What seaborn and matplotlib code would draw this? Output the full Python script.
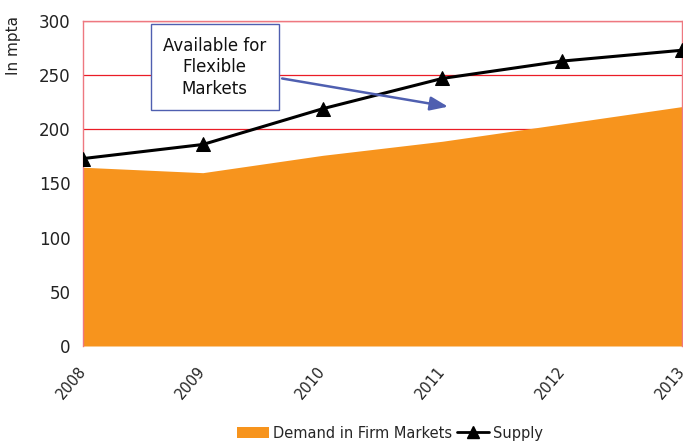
import matplotlib
matplotlib.use("Agg")
import matplotlib.pyplot as plt
import seaborn as sns
import pandas as pd
from matplotlib.patches import Patch
from matplotlib.lines import Line2D

years = [2008, 2009, 2010, 2011, 2012, 2013]
demand = [165, 160, 176, 189, 205, 221]
supply = [173, 186, 219, 247, 263, 273]
yticks = [0, 50, 100, 150, 200, 250, 300]

sns.set_theme(style="white")
plt.rcParams['font.family'] = ['DejaVu Sans']

df = pd.DataFrame({"year": years, "demand": demand, "supply": supply})

fig = plt.figure(figsize=(6.83, 4.44), dpi=100)
ax = fig.add_axes([83/683, 98/444, 599/683, 325/444])

for y in yticks[1:]:
    ax.axhline(y, color='#EA1C26', lw=0.9, zorder=0)

ax.fill_between(df["year"], 0, df["demand"], color='#F7941D', lw=0, zorder=1)
sns.lineplot(data=df, x="year", y="supply", ax=ax, color='black', lw=2.2,
             marker='^', markersize=9.5, markeredgecolor='black', zorder=3)

ax.set_xlim(2008, 2013)
ax.set_ylim(0, 300)
ax.set_yticks(yticks)
ax.set_xticks(years)
ax.set_xticklabels([str(y) for y in years], rotation=50, ha='right', va='center',
                   rotation_mode='anchor', fontsize=10.5, color='#222222')
ax.set_yticklabels([str(v) for v in yticks], fontsize=12, color='#222222')
ax.tick_params(axis='both', length=0)
ax.tick_params(axis='x', pad=16)
ax.tick_params(axis='y', pad=9)
ax.set_xlabel("")
ax.set_ylabel("In mpta", fontsize=11, color='#222222')
ax.yaxis.set_label_coords(-0.103, 0.925)

for side in ['left', 'right', 'top']:
    ax.spines[side].set_color('#EE7880')
    ax.spines[side].set_linewidth(1.0)
ax.spines['bottom'].set_visible(False)

ax.annotate("Available for\nFlexible\nMarkets", xy=(2011.07, 220.5), xytext=(2009.1, 257.5),
            ha='center', va='center', fontsize=12, color='#111111', linespacing=1.25,
            bbox=dict(boxstyle='square,pad=0.75', fc='white', ec='#4F5FB0', lw=1.0),
            arrowprops=dict(arrowstyle='-|>,head_length=0.9,head_width=0.35', color='#4F5FB0', lw=1.8),
            zorder=5)

handles = [Patch(facecolor='#F7941D', edgecolor='none'),
           Line2D([0], [0], color='black', lw=2, marker='^', markersize=8)]
fig.legend(handles, ["Demand in Firm Markets", "Supply"], loc='center',
           bbox_to_anchor=(390/683, 1 - 433/444), ncol=2, frameon=False,
           fontsize=10.5, handlelength=2.2, handletextpad=0.3, columnspacing=0.3)

fig.savefig("out.png", dpi=100)
